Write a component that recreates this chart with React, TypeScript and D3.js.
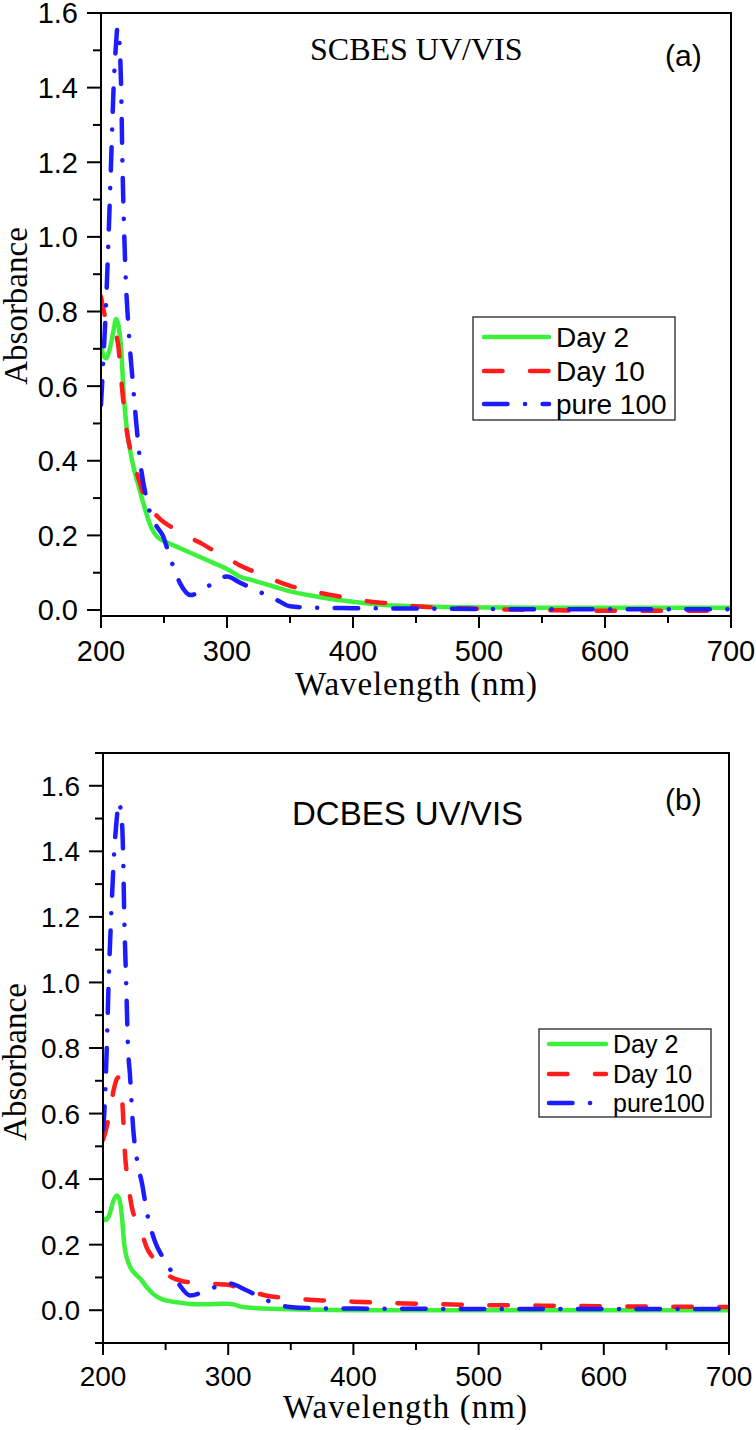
import React from "react";
import * as d3 from "d3";

// ---------- Panel (a): SCBES UV/VIS ----------
const aDay2Wl = [200, 202, 204, 207, 210, 212, 214, 216, 218, 220, 223, 226, 230, 235, 240, 245, 250, 260, 270, 280, 290, 300, 305, 310, 320, 330, 340, 350, 370, 390, 400, 420, 450, 500, 550, 600, 650, 700];
const aDay2Abs = [0.72, 0.68, 0.675, 0.70, 0.75, 0.78, 0.76, 0.70, 0.58, 0.50, 0.43, 0.38, 0.33, 0.27, 0.22, 0.195, 0.185, 0.17, 0.155, 0.14, 0.125, 0.11, 0.10, 0.09, 0.08, 0.07, 0.06, 0.05, 0.037, 0.026, 0.022, 0.015, 0.01, 0.007, 0.006, 0.006, 0.006, 0.006];

const aDay10Wl = [200, 203, 206, 209, 212, 214, 216, 218, 220, 222, 225, 230, 235, 240, 245, 250, 260, 270, 280, 290, 300, 310, 320, 330, 340, 350, 360, 380, 400, 420, 430, 440, 450, 475, 500, 550, 600, 650, 700];
const aDay10Abs = [0.84, 0.79, 0.77, 0.765, 0.74, 0.70, 0.62, 0.55, 0.49, 0.45, 0.41, 0.35, 0.30, 0.27, 0.25, 0.235, 0.215, 0.195, 0.178, 0.158, 0.14, 0.12, 0.105, 0.09, 0.077, 0.065, 0.056, 0.042, 0.03, 0.02, 0.018, 0.014, 0.01, 0.006, 0.003, 0.0, -0.002, -0.002, -0.002];

const aPureWl = [200, 202, 204, 206, 208, 210, 212, 213, 214, 215, 216, 217, 218.5, 220, 221, 223, 225.5, 228, 231, 236, 240, 245, 249, 253, 257, 263, 271, 285, 300, 310, 320, 330, 340, 350, 370, 400, 450, 500, 550, 600, 650, 700];
const aPureAbs = [0.55, 0.68, 0.82, 1.0, 1.2, 1.4, 1.52, 1.56, 1.54, 1.5, 1.4, 1.2, 1.0, 0.86, 0.8, 0.7, 0.6, 0.5, 0.4, 0.3, 0.25, 0.22, 0.2, 0.16, 0.12, 0.07, 0.04, 0.064, 0.09, 0.074, 0.058, 0.042, 0.026, 0.01, 0.006, 0.005, 0.004, 0.003, 0.002, 0.002, 0.002, 0.002];

// ---------- Panel (b): DCBES UV/VIS ----------
const bDay2Wl = [200, 202, 205, 208, 211, 213, 215, 217, 219, 222, 226, 230, 235, 240, 245, 250, 260, 270, 280, 290, 300, 305, 310, 320, 340, 360, 400, 450, 500, 600, 700];
const bDay2Abs = [0.28, 0.275, 0.29, 0.33, 0.35, 0.34, 0.29, 0.2, 0.16, 0.13, 0.11, 0.095, 0.07, 0.05, 0.037, 0.03, 0.024, 0.019, 0.018, 0.019, 0.02, 0.017, 0.011, 0.007, 0.004, 0.002, 0.0, 0.0, 0.0, 0.0, 0.0];

const bDay10Wl = [200, 203, 206, 209, 212, 214, 215.5, 217.5, 220, 223, 227, 231, 235, 240, 248, 255, 262, 270, 278, 290, 300, 310, 320, 330, 350, 375, 400, 450, 500, 550, 600, 650, 700];
const bDay10Abs = [0.52, 0.56, 0.62, 0.68, 0.71, 0.68, 0.63, 0.48, 0.39, 0.315, 0.27, 0.235, 0.19, 0.16, 0.12, 0.1, 0.09, 0.085, 0.082, 0.08, 0.078, 0.065, 0.055, 0.045, 0.036, 0.03, 0.026, 0.02, 0.016, 0.014, 0.012, 0.011, 0.01];

const bPureWl = [200, 201, 203, 204.5, 206.5, 209, 211, 212.5, 213.5, 215, 216, 217, 218.5, 220, 221.5, 224, 228, 231, 235, 241.5, 248, 256, 261.5, 269.5, 285, 300, 315, 331, 349, 370, 400, 500, 600, 700];
const bPureAbs = [0.55, 0.6, 0.8, 1.0, 1.2, 1.4, 1.5, 1.55, 1.54, 1.5, 1.4, 1.2, 1.0, 0.8, 0.72, 0.56, 0.44, 0.39, 0.3, 0.21, 0.16, 0.11, 0.075, 0.045, 0.064, 0.082, 0.06, 0.03, 0.01, 0.006, 0.005, 0.004, 0.004, 0.004];

const xMajorTicks = [200, 300, 400, 500, 600, 700];
const xMinorTicks = [250, 350, 450, 550, 650];
const yMajorTicks = [0.0, 0.2, 0.4, 0.6, 0.8, 1.0, 1.2, 1.4, 1.6];
const yMinorTicksA = [0.1, 0.3, 0.5, 0.7, 0.9, 1.1, 1.3, 1.5];
const yMinorTicksB = [-0.1, 0.1, 0.3, 0.5, 0.7, 0.9, 1.1, 1.3, 1.5, 1.7];

const legendA = ["Day 2", "Day 10", "pure 100"];
const legendB = ["Day 2", "Day 10", "pure100"];

const GREEN = "#3cf03c";
const RED = "#ff1c1c";
const BLUE = "#1c1cff";
const SERIF = "'Liberation Serif', 'Times New Roman', serif";
const SANS = "'Liberation Sans', Arial, sans-serif";

const styles = [
  { color: GREEN, dash: undefined as string | undefined },
  { color: RED, dash: "18.5,27.5" },
  { color: BLUE, dash: "23.5,17.5,0.1,17.5" },
];

type PanelCfg = {
  id: string;
  x0: number; x1: number; yTop: number; yBot: number;
  yDomain: [number, number];
  yMinor: number[];
  series: { wl: number[]; abs: number[] }[];
  title: string; titleFont: string; titleSize: number; titleX: number; titleY: number;
  tag: string; tagX: number; tagY: number;
  tickSize: number; yLabelRight: number; xLabelBase: number;
  xTitleX: number; xTitleY: number; xTitleLen: number;
  yTitleX: number; yTitleY: number;
  legend: string[]; legX0: number; legX1: number; legY0: number; legY1: number;
  legRows: number[]; legLineX0: number; legLineX1: number; legTextX: number; legFont: number; legBase: number;
};

const panels: PanelCfg[] = [
  {
    id: "a", x0: 101, x1: 731, yTop: 13, yBot: 616, yDomain: [-0.016, 1.6], yMinor: yMinorTicksA,
    series: [
      { wl: aDay2Wl, abs: aDay2Abs },
      { wl: aDay10Wl, abs: aDay10Abs },
      { wl: aPureWl, abs: aPureAbs },
    ],
    title: "SCBES UV/VIS", titleFont: SERIF, titleSize: 32, titleX: 310, titleY: 60,
    tag: "(a)", tagX: 665, tagY: 66,
    tickSize: 29, yLabelRight: 78, xLabelBase: 661,
    xTitleX: 295, xTitleY: 695, xTitleLen: 242,
    yTitleX: 27, yTitleY: 306,
    legend: legendA, legX0: 473, legX1: 675, legY0: 317, legY1: 420,
    legRows: [337, 371, 404], legLineX0: 482, legLineX1: 551, legTextX: 556, legFont: 28, legBase: 10,
  },
  {
    id: "b", x0: 103, x1: 729, yTop: 753, yBot: 1343, yDomain: [-0.1, 1.7], yMinor: yMinorTicksB,
    series: [
      { wl: bDay2Wl, abs: bDay2Abs },
      { wl: bDay10Wl, abs: bDay10Abs },
      { wl: bPureWl, abs: bPureAbs },
    ],
    title: "DCBES UV/VIS", titleFont: SANS, titleSize: 33, titleX: 292, titleY: 825,
    tag: "(b)", tagX: 665, tagY: 810,
    tickSize: 28, yLabelRight: 80, xLabelBase: 1386,
    xTitleX: 283, xTitleY: 1418, xTitleLen: 244,
    yTitleX: 26, yTitleY: 1062,
    legend: legendB, legX0: 539, legX1: 711, legY0: 1029, legY1: 1117,
    legRows: [1044, 1074, 1103], legLineX0: 547, legLineX1: 608, legTextX: 613, legFont: 25, legBase: 9,
  },
];

function Panel({ p }: { p: PanelCfg }) {
  const x = d3.scaleLinear().domain([200, 700]).range([p.x0, p.x1]);
  const y = d3.scaleLinear().domain(p.yDomain).range([p.yBot, p.yTop]);
  const line = d3
    .line<[number, number]>()
    .x((d) => x(d[0]))
    .y((d) => y(d[1]))
    .curve(d3.curveMonotoneX);
  const clipId = `clip-${p.id}`;
  return (
    <g>
      <defs>
        <clipPath id={clipId}>
          <rect x={p.x0} y={p.yTop} width={p.x1 - p.x0} height={p.yBot - p.yTop} />
        </clipPath>
      </defs>
      <g clipPath={`url(#${clipId})`}>
        {p.series.map((s, i) => (
          <path
            key={i}
            d={line(s.wl.map((w, k) => [w, s.abs[k]] as [number, number])) || ""}
            fill="none"
            stroke={styles[i].color}
            strokeWidth={4.5}
            strokeDasharray={styles[i].dash}
            strokeLinecap="round"
            strokeLinejoin="round"
          />
        ))}
      </g>
      <rect x={p.x0} y={p.yTop} width={p.x1 - p.x0} height={p.yBot - p.yTop} fill="none" stroke="#000" strokeWidth={2} />
      {xMajorTicks.map((t) => (
        <g key={`xM${t}`}>
          <line x1={x(t)} x2={x(t)} y1={p.yBot} y2={p.yBot + 12} stroke="#000" strokeWidth={2} />
          <text x={x(t)} y={p.xLabelBase} textAnchor="middle" fontFamily={SANS} fontSize={p.tickSize}>
            {t}
          </text>
        </g>
      ))}
      {xMinorTicks.map((t) => (
        <line key={`xm${t}`} x1={x(t)} x2={x(t)} y1={p.yBot} y2={p.yBot + 7} stroke="#000" strokeWidth={2} />
      ))}
      {yMajorTicks.map((t) => (
        <g key={`yM${t}`}>
          <line x1={p.x0 - 14} x2={p.x0} y1={y(t)} y2={y(t)} stroke="#000" strokeWidth={2} />
          <text x={p.yLabelRight} y={y(t)} dy="0.36em" textAnchor="end" fontFamily={SANS} fontSize={p.tickSize}>
            {t.toFixed(1)}
          </text>
        </g>
      ))}
      {p.yMinor.map((t) => (
        <line key={`ym${t}`} x1={p.x0 - 8} x2={p.x0} y1={y(t)} y2={y(t)} stroke="#000" strokeWidth={2} />
      ))}
      <text x={p.xTitleX} y={p.xTitleY} fontFamily={SERIF} fontSize={33} textLength={p.xTitleLen} lengthAdjust="spacing">
        Wavelength (nm)
      </text>
      <text
        transform={`translate(${p.yTitleX},${p.yTitleY}) rotate(-90)`}
        textAnchor="middle"
        fontFamily={SERIF}
        fontSize={33}
      >
        Absorbance
      </text>
      <text x={p.titleX} y={p.titleY} fontFamily={p.titleFont} fontSize={p.titleSize}>
        {p.title}
      </text>
      <text x={p.tagX} y={p.tagY} fontFamily={SANS} fontSize={30}>
        {p.tag}
      </text>
      <rect x={p.legX0} y={p.legY0} width={p.legX1 - p.legX0} height={p.legY1 - p.legY0} fill="#fff" stroke="#222" strokeWidth={1.3} />
      {p.legend.map((lab, i) => (
        <g key={lab}>
          <line
            x1={p.legLineX0 + 2}
            x2={p.legLineX1 - 2}
            y1={p.legRows[i]}
            y2={p.legRows[i]}
            stroke={styles[i].color}
            strokeWidth={4.5}
            strokeDasharray={styles[i].dash}
            strokeLinecap="round"
          />
          <text x={p.legTextX} y={p.legRows[i] + p.legBase} fontFamily={SANS} fontSize={p.legFont}>
            {lab}
          </text>
        </g>
      ))}
    </g>
  );
}

export default function App() {
  return (
    <svg width={756} height={1430} style={{ position: "absolute", left: 0, top: 0, background: "#fff" }}>
      <rect width={756} height={1430} fill="#fff" />
      {panels.map((p) => (
        <Panel key={p.id} p={p} />
      ))}
    </svg>
  );
}
